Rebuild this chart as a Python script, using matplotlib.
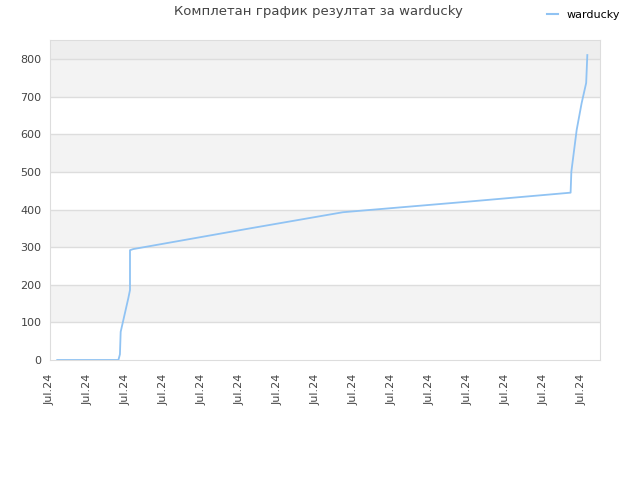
import matplotlib
matplotlib.use("Agg")
import matplotlib.pyplot as plt
from matplotlib.lines import Line2D

# -----------------------
# DATA
# -----------------------

# x in tick units (one tick per step), y = cumulative score
days = [0.19, 1.80, 1.84, 1.86, 2.06, 2.105, 2.105, 2.19, 5.26, 7.71,
        10.87, 13.70, 13.72, 13.86, 13.99, 14.11, 14.14]
score = [0, 0, 15, 75, 164, 186, 292, 295, 350, 393,
         420, 445, 501, 612, 683, 737, 811]

tick_pos = list(range(15))
tick_labels = ["Jul.24"] * 15

title = "Комплетан график резултат за warducky"
player = "warducky"

line_color = "#90c3f3"

# -----------------------
# PLOT
# -----------------------

fig = plt.figure(figsize=(6.4, 4.8), dpi=100)
ax = fig.add_axes([50 / 640, 1 - 360 / 480, 550 / 640, 320 / 480])

ax.set_xlim(0, 550 / 38)
ax.set_ylim(0, 851)

# alternating horizontal bands
for lo in range(0, 900, 100):
    hi = min(lo + 100, 851)
    if lo >= 800:
        c = "#eeeeee"
    elif (lo // 100) % 2 == 1:
        c = "#f3f3f3"
    else:
        c = "#ffffff"
    ax.axhspan(lo, hi, color=c, zorder=0, lw=0)

for yv in range(100, 900, 100):
    ax.axhline(yv, color="#dddddd", lw=1, zorder=1)

ax.plot(days, score, color=line_color, lw=1.3, zorder=3)

ax.set_yticks(range(0, 900, 100))
ax.set_xticks(tick_pos)
ax.set_xticklabels(tick_labels, rotation=90)
ax.tick_params(axis="both", length=0, labelsize=8, colors="#444444", pad=6)
ax.tick_params(axis="x", pad=10)

for s in ax.spines.values():
    s.set_color("#dddddd")

fig.text(318 / 640, 1 - 12 / 480, title, ha="center", va="center",
         fontsize=9.5, color="#444444")

handle = Line2D([], [], color=line_color, lw=1.5)
fig.legend([handle], [player], loc="upper right", bbox_to_anchor=(0.985, 1.0),
           frameon=False, fontsize=8, handlelength=1.0, handletextpad=0.8)

fig.savefig("out.png", dpi=100)
